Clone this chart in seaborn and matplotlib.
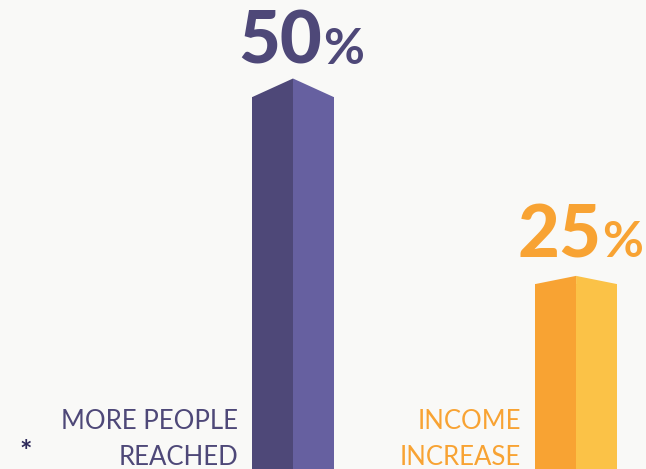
import numpy as np
import pandas as pd
import seaborn as sns
import matplotlib.pyplot as plt
from matplotlib.patches import Rectangle, Polygon

# dados
categorias = ["Reached", "Income"]
valores = [50, 25]
rotulos_pct = ["50", "25"]
rotulos = [["MORE PEOPLE", "REACHED"], ["INCOME", "INCREASE"]]

# estilo
cor_escura = ["#4e4878", "#f8a333"]
cor_clara = ["#6660a0", "#fbc247"]
subida_telhado = [2.5, 1.1]
desloc_pct = [(21, 24), (18, 19.5)]
fundo = "#f9f9f7"

sns.set_theme(style="white")
plt.rcParams["font.family"] = ["Lato", "DejaVu Sans"]

df = pd.DataFrame({"cat": categorias, "valor": valores})

fig = plt.figure(figsize=(6.46, 4.69), dpi=100, facecolor=fundo)
ax = fig.add_axes([0, 0, 1, 1])
ax.set_facecolor(fundo)

sns.barplot(data=df, x="cat", y="valor", hue="cat", palette=cor_escura,
            saturation=1, width=0.29, linewidth=0, legend=False, ax=ax)

for i, cont in enumerate(ax.containers):
    p = cont.patches[0]
    x0, w, h = p.get_x(), p.get_width(), p.get_height()
    r = subida_telhado[i]
    ax.add_patch(Rectangle((x0 + w / 2, 0), w / 2, h, color=cor_clara[i], lw=0))
    ax.add_patch(Polygon([(x0, h), (x0 + w / 2, h + r), (x0 + w / 2, h)],
                         closed=True, color=cor_escura[i], lw=0))
    ax.add_patch(Polygon([(x0 + w / 2, h), (x0 + w / 2, h + r), (x0 + w, h)],
                         closed=True, color=cor_clara[i], lw=0))

    # percentual
    cx = x0 + w / 2
    dx, dy = desloc_pct[i]
    ax.annotate(rotulos_pct[i], xy=(cx, h), xytext=(dx, dy),
                textcoords="offset points", ha="right", va="baseline",
                fontsize=52, fontweight="black", color=cor_escura[i],
                annotation_clip=False)
    ax.annotate("%", xy=(cx, h), xytext=(dx + 1, dy),
                textcoords="offset points", ha="left", va="baseline",
                fontsize=36, fontweight="bold", color=cor_escura[i],
                annotation_clip=False)

    # rotulo
    for j, linha in enumerate(rotulos[i]):
        ax.annotate(linha, xy=(x0, 0), xytext=(-10, 30.5 - j * 26),
                    textcoords="offset points", ha="right", va="baseline",
                    fontsize=18.5, fontweight=400, color=cor_escura[i],
                    annotation_clip=False)

fig.text(26 / 646, 1 - 452 / 469, "*", ha="center", va="center",
         fontsize=21, fontweight="bold", color="#2e2a5a")

ax.set_xlim(-1.035, 1.247)
ax.set_ylim(0.27, 63)
ax.axis("off")

fig.savefig("out.png", dpi=100, facecolor=fundo)
